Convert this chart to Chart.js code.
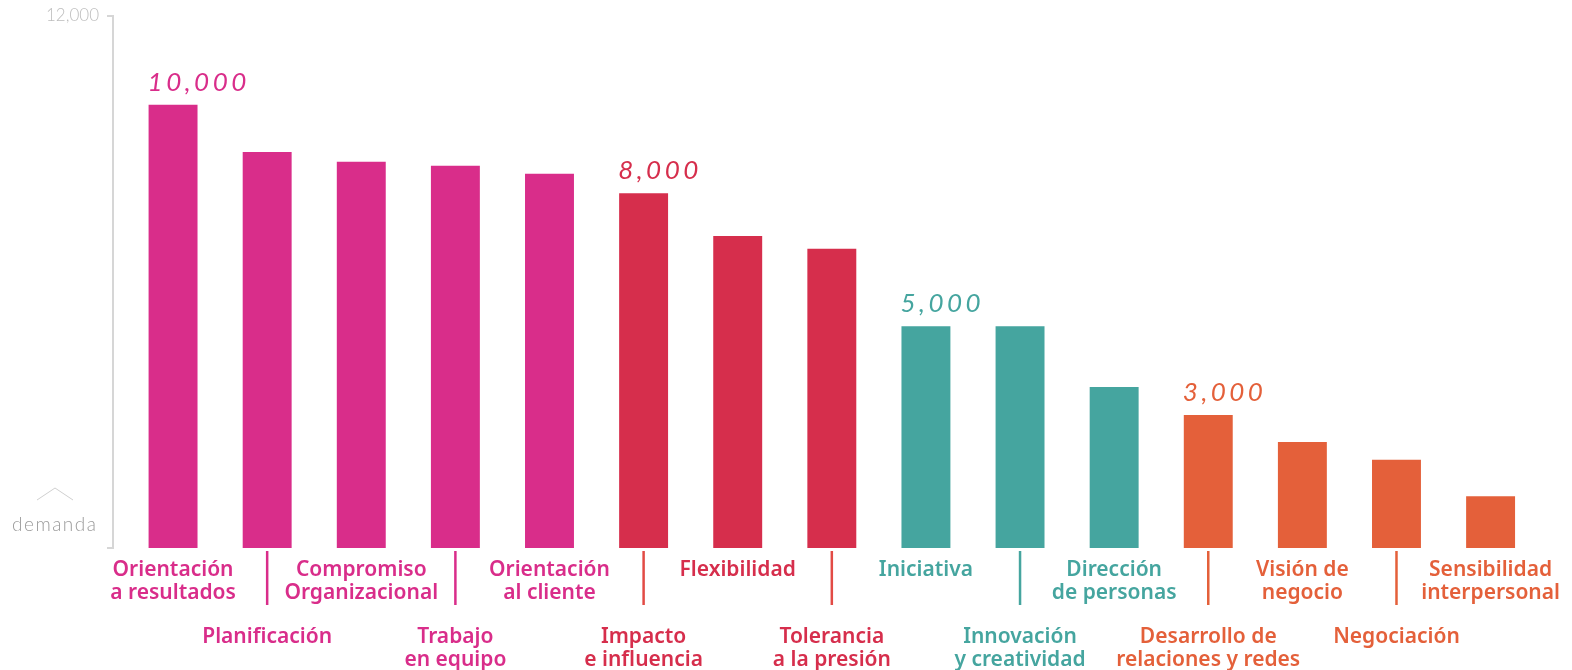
<!DOCTYPE html>
<html lang="es">
<head>
<meta charset="utf-8">
<title>Competencias más demandadas</title>
<script src="https://cdn.jsdelivr.net/npm/chart.js@4.4.1/dist/chart.umd.min.js"></script>
<style>
  html, body { margin: 0; padding: 0; background: #fff; }
  #wrap { position: relative; width: 1572px; height: 670px; }
</style>
</head>
<body>
<div id="wrap"><canvas id="demand_chart"></canvas></div>
<script>
'use strict';

// competencias (cada una partida en líneas)
const categories = [
    ['Orientación', 'a resultados'],
    ['Planificación'],
    ['Compromiso', 'Organizacional'],
    ['Trabajo', 'en equipo'],
    ['Orientación', 'al cliente'],
    ['Impacto', 'e influencia'],
    ['Flexibilidad'],
    ['Tolerancia', 'a la presión'],
    ['Iniciativa'],
    ['Innovación', 'y creatividad'],
    ['Dirección', 'de personas'],
    ['Desarrollo de', 'relaciones y redes'],
    ['Visión de', 'negocio'],
    ['Negociación'],
    ['Sensibilidad', 'interpersonal'],
];

// demanda por competencia
const demand = [10000, 8930, 8710, 8620, 8440, 8000, 7040, 6750, 5000, 5000, 3630, 3000, 2390, 1990, 1170];

// grupo de cada competencia (0 rosa, 1 rojo, 2 verde, 3 naranja)
const group_of = [0, 0, 0, 0, 0, 1, 1, 1, 2, 2, 2, 3, 3, 3, 3];

// barras que llevan la cifra encima
const labelled_bars = [0, 5, 8, 11];

const y_max = 12000;
const y_ticks = [12000];

const group_colors = ['#D92D8A', '#D62E4C', '#45A59F', '#E4603A'];
const divider_colors = ['#D92D8A', '#E24B45', '#45A59F', '#E4603A'];

const fmt = (v) => v.toLocaleString('en-US');
const color_at = (i) => group_colors[group_of[i]];

// etiquetas alternas: las pares arriba, las impares bajan tres líneas
const label_lines = categories.map((lines, i) => i % 2 ? ['', '', ''].concat(lines) : lines);

const extras = {
    id: 'extras',
    afterDatasetsDraw(chart) {
        const ctx = chart.ctx;
        const area = chart.chartArea;
        const x = chart.scales.x;
        const y = chart.scales.y;
        const bars = chart.getDatasetMeta(0).data;

        ctx.save();

        // corchete del eje vertical
        const ax = area.left - 13;
        const top = y.getPixelForValue(y_max);
        const bottom = y.getPixelForValue(0);
        ctx.strokeStyle = '#d6d6d6';
        ctx.lineWidth = 2;
        ctx.beginPath();
        ctx.moveTo(ax - 6, top);
        ctx.lineTo(ax, top);
        ctx.lineTo(ax, bottom);
        ctx.lineTo(ax - 6, bottom);
        ctx.stroke();

        // leyenda del eje: flecha y "demanda"
        ctx.strokeStyle = '#cfcfcf';
        ctx.lineWidth = 1;
        ctx.beginPath();
        ctx.moveTo(37, bottom - 48);
        ctx.lineTo(55, bottom - 60);
        ctx.lineTo(73, bottom - 48);
        ctx.stroke();

        ctx.fillStyle = '#9b9b9b';
        ctx.font = '300 19px Lato';
        ctx.letterSpacing = '1.5px';
        ctx.textAlign = 'left';
        ctx.textBaseline = 'alphabetic';
        ctx.fillText('demanda', 12, bottom - 17);

        // separadores bajo las barras impares
        ctx.letterSpacing = '0px';
        ctx.lineWidth = 2.5;
        for (let i = 1; i < demand.length; i += 2) {
            const px = x.getPixelForValue(i);
            ctx.strokeStyle = divider_colors[group_of[i]];
            ctx.beginPath();
            ctx.moveTo(px, bottom + 3);
            ctx.lineTo(px, bottom + 57);
            ctx.stroke();
        }

        // cifras sobre la primera barra de cada grupo
        ctx.font = 'italic 400 26px Lato';
        ctx.letterSpacing = '3.5px';
        labelled_bars.forEach((i) => {
            const bar = bars[i];
            ctx.fillStyle = color_at(i);
            ctx.fillText(fmt(demand[i]), bar.x - bar.width / 2 - 1, bar.y - 14);
        });

        ctx.restore();
    }
};

new Chart(document.getElementById('demand_chart'), {
    type: 'bar',
    data: {
        labels: label_lines,
        datasets: [{
            data: demand,
            backgroundColor: demand.map((v, i) => color_at(i)),
            borderWidth: 0,
            categoryPercentage: 1,
            barPercentage: 0.52,
        }],
    },
    options: {
        responsive: true,
        maintainAspectRatio: false,
        animation: false,
        layout: { padding: { top: 16, right: 31, left: 0, bottom: 0 } },
        plugins: {
            legend: { display: false },
            tooltip: { enabled: false },
        },
        scales: {
            x: {
                grid: { display: false, drawTicks: false },
                border: { display: false },
                ticks: {
                    autoSkip: false,
                    maxRotation: 0,
                    padding: 11,
                    color: (c) => color_at(c.index),
                    font: { family: "'Noto Sans', sans-serif", size: 21, weight: 600, lineHeight: 1.065 },
                },
                afterFit: (s) => { s.height = 122; },
            },
            y: {
                min: 0,
                max: y_max,
                grid: { display: false, drawTicks: false },
                border: { display: false },
                afterBuildTicks: (s) => { s.ticks = y_ticks.map((v) => ({ value: v })); },
                ticks: {
                    padding: 27,
                    color: '#bdbdbd',
                    font: { family: 'Lato', size: 17, weight: 300 },
                    callback: (v) => fmt(v),
                },
                afterFit: (s) => {
                    s.width = 126;
                    s.paddingTop = 0;
                    s.paddingBottom = 0;
                },
            },
        },
    },
    plugins: [extras],
});
</script>
</body>
</html>
